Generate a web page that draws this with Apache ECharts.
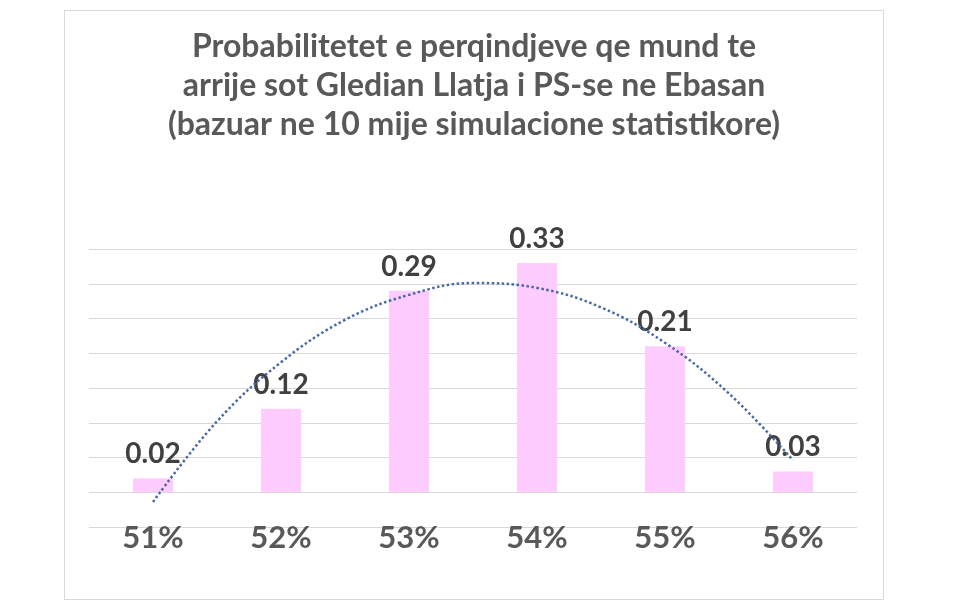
<!DOCTYPE html>
<html>
<head>
<meta charset="utf-8">
<script src="https://cdn.jsdelivr.net/npm/echarts@6/dist/echarts.min.js"></script>
<style>
    body { margin: 0; background: #fff; }
    #chart {
        position: absolute;
        left: 64px;
        top: 10px;
        width: 818px;
        height: 588px;
        border: 1px solid #d9d9d9;
    }
</style>
</head>
<body>
<div id="chart"></div>
<script>
let titleLines = [
    "Probabilitetet e perqindjeve qe mund te",
    "arrije sot Gledian Llatja i PS-se ne Ebasan",
    "(bazuar ne 10 mije simulacione statistikore)"
];
let categories = ["51%", "52%", "53%", "54%", "55%", "56%"];
let probabilities = [0.02, 0.12, 0.29, 0.33, 0.21, 0.03];
// polynomial trendline, at every half category
let trendX = [1, 1.5, 2, 2.5, 3, 3.5, 4, 4.5, 5, 5.5, 6];
let trendY = [-0.014, 0.102, 0.187, 0.248, 0.284, 0.301, 0.294, 0.266, 0.215, 0.142, 0.046];

let font = "Lato";
let chart = echarts.init(document.getElementById("chart"));
let option = {
    animation: false,
    title: {
        text: titleLines.join("\n"),
        left: "center",
        top: 11,
        textStyle: {
            fontFamily: font,
            fontSize: 32,
            fontWeight: "bold",
            color: "#595959",
            lineHeight: 39
        }
    },
    grid: {
        left: 24,
        right: 26,
        top: 238,
        bottom: 72
    },
    xAxis: [
        {
            type: "category",
            data: categories,
            axisLine: { show: false },
            axisTick: { show: false },
            axisLabel: {
                margin: -5,
                fontFamily: font,
                fontSize: 31,
                fontWeight: "bold",
                color: "#595959"
            }
        },
        {
            type: "value",
            min: 0.5,
            max: 6.5,
            show: false
        }
    ],
    yAxis: {
        type: "value",
        min: -0.05,
        max: 0.35,
        interval: 0.05,
        axisLine: { show: false },
        axisTick: { show: false },
        axisLabel: { show: false },
        splitLine: {
            lineStyle: { color: "#d9d9d9", width: 1 }
        }
    },
    series: [
        {
            name: "probabiliteti",
            type: "bar",
            data: probabilities,
            barWidth: 40,
            itemStyle: { color: "#ffccff" },
            label: {
                show: true,
                position: "top",
                distance: 10,
                fontFamily: font,
                fontSize: 28,
                fontWeight: "bold",
                color: "#404040"
            },
            z: 2
        },
        {
            name: "trend",
            type: "line",
            xAxisIndex: 1,
            data: trendX.map((x, i) => [x, trendY[i]]),
            smooth: 0.4,
            symbol: "none",
            lineStyle: {
                color: "#4a6aa5",
                width: 2.5,
                type: "dotted"
            },
            z: 3
        }
    ]
};
chart.setOption(option);
</script>
</body>
</html>
